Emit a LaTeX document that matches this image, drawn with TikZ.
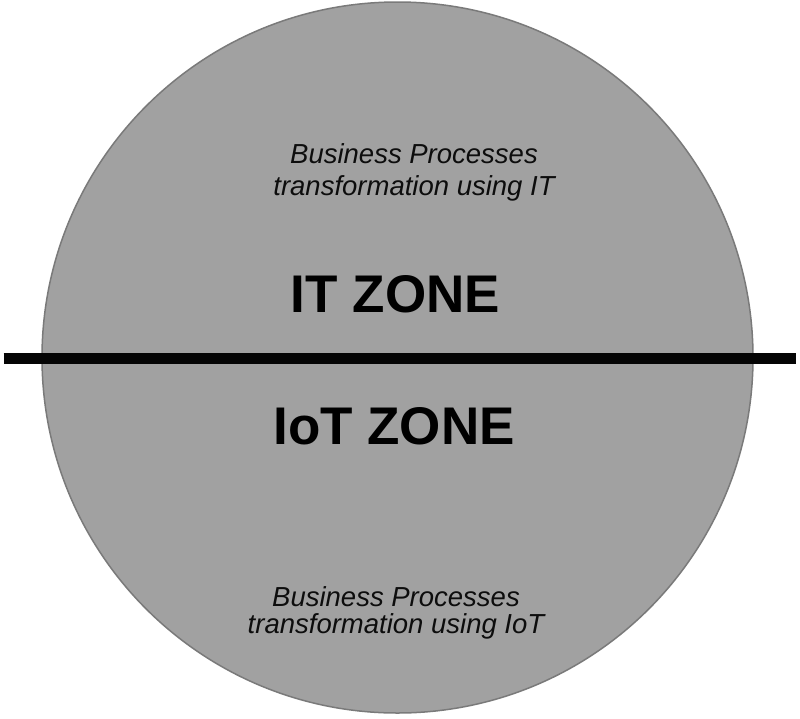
\documentclass[tikz,border=0pt]{standalone}
\usepackage{fontspec}
\setmainfont{Liberation Sans}
\begin{document}
\begin{tikzpicture}[x=1pt,y=-1pt,
  zone/.style={font=\fontsize{53}{60}\selectfont\bfseries, text=black, inner sep=0pt, anchor=base},
  note/.style={font=\fontsize{27.5}{32}\selectfont\itshape, text=black!95, inner sep=0pt, anchor=base},
  divider/.style={line width=10.5pt, draw=black!98}]
  \useasboundingbox (0,0) rectangle (800,718);
  % the sphere
  \node[circle, minimum size=711pt, inner sep=0pt, fill=black!37, draw=black!52, line width=1.5pt] (globe) at (397.5,357.5) {};
  % dividing line
  \coordinate (leftend) at (3.5,358.7);
  \coordinate (rightend) at (796,358.7);
  \draw[divider] (leftend) -- (rightend);
  % upper half
  \node[note] (itnoteA) at (414,163) {Business Processes};
  \node[note] (itnoteB) at (414,195) {transformation using IT};
  \node[zone] (itzone) at (395.5,312.7) {IT ZONE};
  % lower half
  \node[zone] (iotzone) at (394,444) {IoT ZONE};
  \node[note] (iotnoteA) at (396,606.5) {Business Processes};
  \node[note] (iotnoteB) at (396,633) {transformation using IoT};
\end{tikzpicture}
\end{document}
